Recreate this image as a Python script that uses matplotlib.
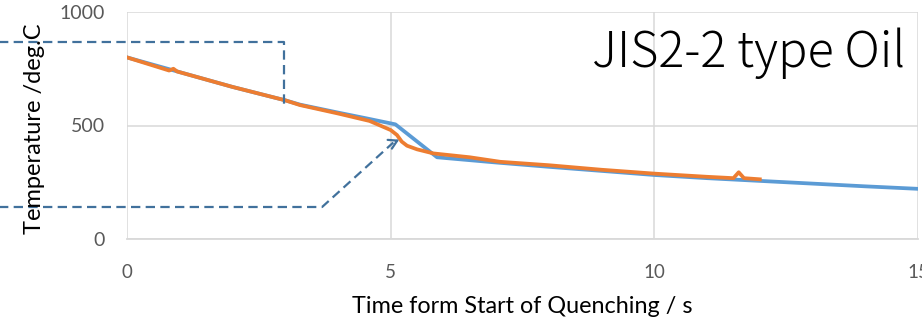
import matplotlib
matplotlib.use("Agg")
import matplotlib.pyplot as plt
from matplotlib.patches import FancyArrowPatch

# ---- data ----
blue_t = [0, 1, 2, 3, 3.28, 4, 4.55, 5.09, 5.88, 7, 8, 9, 10, 11, 12, 13, 14, 15]
blue_T = [800, 735, 670, 611, 592, 557, 531, 505, 360, 337, 318, 300, 282, 268, 256, 244, 232, 221]

orange_t = [0, 0.8, 0.88, 0.95, 2, 3, 3.28, 4, 4.6, 5.0, 5.12, 5.21, 5.31, 5.5, 5.81, 6.5, 7.08, 8, 9, 10, 11, 11.5, 11.6, 11.7, 12.0]
orange_T = [800, 742, 750, 738, 670, 611, 590, 553, 520, 480, 458, 429, 411, 395, 377, 360, 340, 325, 305, 288, 274, 268, 294, 268, 263]

upper_dash_t = [-3.0, 2.97, 2.97]
upper_dash_T = [868, 868, 580]
lower_dash_t = [-3.0, 3.7, 5.05]
lower_dash_T = [141, 141, 425]
arrow_tip = (5.21, 443)

x_ticks = [0, 5, 10, 15]
y_ticks = [0, 500, 1000]
title = "JIS2-2 type Oil"
xlabel = "Time form Start of Quenching / s"
ylabel = "Temperature /deg.C"

BLUE = "#5B9BD5"
ORANGE = "#ED7D31"
DASH = "#41719C"
GRID = "#D9D9D9"
TICKC = "#595959"

fig = plt.figure(figsize=(9.22, 3.2), dpi=100)
ax = fig.add_axes([127/922, 81/320, 791/922, 227/320])
ax.set_xlim(0, 15)
ax.set_ylim(0, 1000)

ax.plot(blue_t, blue_T, color=BLUE, lw=2.7, zorder=3)
ax.plot(orange_t, orange_T, color=ORANGE, lw=2.7, zorder=4)

ax.plot(upper_dash_t, upper_dash_T, color=DASH, lw=1.6, ls=(0, (4.2, 2.4)), clip_on=False, zorder=5)
ax.plot(lower_dash_t, lower_dash_T, color=DASH, lw=1.6, ls=(0, (4.2, 2.4)), clip_on=False, zorder=5)
arr = FancyArrowPatch((lower_dash_t[-1], lower_dash_T[-1]), arrow_tip,
                      arrowstyle="->,head_length=6,head_width=3.5", color=DASH, lw=1.6,
                      mutation_scale=1, zorder=5)
ax.add_patch(arr)

ax.set_xticks(x_ticks)
ax.set_yticks(y_ticks)
ax.grid(True, color=GRID, lw=1.1)
ax.set_axisbelow(True)
for s in ["top", "right"]:
    ax.spines[s].set_visible(False)
ax.spines["left"].set_visible(False)
ax.spines["bottom"].set_color(GRID)
ax.spines["bottom"].set_linewidth(1.3)
ax.tick_params(length=0)
ax.tick_params(axis="y", pad=16, labelsize=14, labelcolor=TICKC)
ax.tick_params(axis="x", pad=18, labelsize=13.5, labelcolor=TICKC)
for lab in ax.get_xticklabels() + ax.get_yticklabels():
    lab.set_family(["Lato", "DejaVu Sans"])

ax.set_xlabel(xlabel, fontsize=16.8, family=["Lato", "DejaVu Sans"], color="#000000", labelpad=11)
fig.text(35/922, 1 - 129/320, ylabel, rotation=90, ha="center", va="center",
         fontsize=17, family=["Lato", "DejaVu Sans"])
ax.text(0.984, 0.82, title, transform=ax.transAxes, ha="right", va="center",
        fontsize=35, fontweight="light", family=["Noto Sans CJK JP", "DejaVu Sans"], zorder=6)

fig.savefig("out.png", dpi=100)
